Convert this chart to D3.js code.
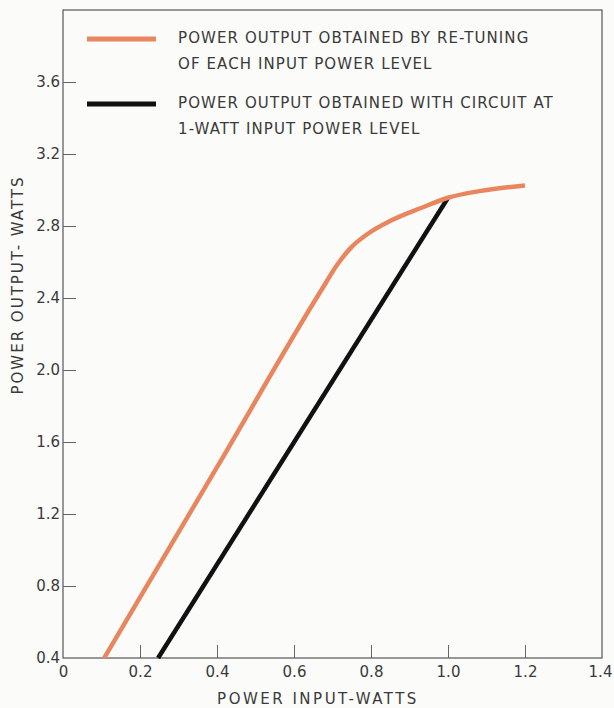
<!DOCTYPE html>
<html>
<head>
<meta charset="utf-8">
<script src="https://cdn.jsdelivr.net/npm/d3@7"></script>
<style>
  html, body { margin: 0; padding: 0; background: #fbfbf9; }
  svg { display: block; }
  text { font-family: "DejaVu Sans", sans-serif; fill: #3a3a3a; }
</style>
</head>
<body>
<svg id="chart" width="614" height="708"></svg>
<script>
// ---- data ----
const xTicks = [0, 0.2, 0.4, 0.6, 0.8, 1.0, 1.2, 1.4];
const xTickLabels = ["0", "0.2", "0.4", "0.6", "0.8", "1.0", "1.2", "1.4"];
const yTicks = [0.4, 0.8, 1.2, 1.6, 2.0, 2.4, 2.8, 3.2, 3.6];
const yTickLabels = ["0.4", "0.8", "1.2", "1.6", "2.0", "2.4", "2.8", "3.2", "3.6"];

// re-tuned curve (orange)
const retuneX = [0.107, 0.4, 0.67, 0.714, 0.748, 0.792, 0.852, 0.93, 1.0, 1.086, 1.2];
const retuneY = [0.40, 1.46, 2.44, 2.59, 2.68, 2.757, 2.83, 2.90, 2.957, 2.995, 3.025];
// fixed circuit (black)
const fixedX = [0.247, 1.0];
const fixedY = [0.40, 2.957];

const seriesNames = [
  ["POWER OUTPUT OBTAINED BY RE-TUNING", "OF EACH INPUT POWER LEVEL"],
  ["POWER OUTPUT OBTAINED WITH CIRCUIT AT", "1-WATT INPUT POWER LEVEL"]
];
const seriesColors = ["#e8875f", "#111111"];
const xTitle = "POWER INPUT-WATTS";
const yTitle = "POWER OUTPUT- WATTS";

// ---- layout ----
const svg = d3.select("#chart");
const L = 63, R = 602, T = 10, B = 658;
const x = d3.scaleLinear().domain([0, 1.4]).range([L, R]);
const y = d3.scaleLinear().domain([0.4, 4.0]).range([B, T]);

// frame
svg.append("rect")
  .attr("x", L).attr("y", T).attr("width", R - L).attr("height", B - T)
  .attr("fill", "none").attr("stroke", "#555").attr("stroke-width", 1.2);

// x axis
const xAxis = d3.axisBottom(x)
  .tickValues(xTicks)
  .tickSize(-13)
  .tickPadding(8)
  .tickFormat((d, i) => xTickLabels[i]);
const gx = svg.append("g").attr("transform", `translate(0,${B})`).call(xAxis);
gx.select(".domain").remove();
gx.selectAll(".tick line").attr("stroke", "#666")
  .attr("display", d => (d === 0 || d === 1.4) ? "none" : null);
gx.selectAll(".tick text")
  .style("font-size", "15px").style("fill", "#3a3a3a")
  .attr("dx", d => d === 1.4 ? -2 : 0);

// y axis
const yAxis = d3.axisLeft(y)
  .tickValues(yTicks)
  .tickSize(-13)
  .tickPadding(3)
  .tickFormat((d, i) => yTickLabels[i]);
const gy = svg.append("g").attr("transform", `translate(${L},0)`).call(yAxis);
gy.select(".domain").remove();
gy.selectAll(".tick line").attr("stroke", "#666")
  .attr("display", d => d === 0.4 ? "none" : null);
gy.selectAll(".tick text")
  .style("font-size", "15px").style("fill", "#3a3a3a");

// titles
svg.append("text")
  .attr("x", 318).attr("y", 704)
  .attr("text-anchor", "middle").style("font-size", "15px")
  .attr("letter-spacing", 2.5)
  .text(xTitle);
svg.append("text")
  .attr("transform", `translate(23,${285}) rotate(-90)`)
  .attr("text-anchor", "middle").style("font-size", "15px")
  .attr("letter-spacing", 2)
  .text(yTitle);

// lines
const line = d3.line().x(d => x(d[0])).y(d => y(d[1])).curve(d3.curveMonotoneX);
const retune = retuneX.map((v, i) => [v, retuneY[i]]);
const fixed = fixedX.map((v, i) => [v, fixedY[i]]);

svg.append("path").datum(fixed)
  .attr("d", line).attr("fill", "none")
  .attr("stroke", seriesColors[1]).attr("stroke-width", 4.5);
svg.append("path").datum(retune)
  .attr("d", line).attr("fill", "none")
  .attr("stroke", seriesColors[0]).attr("stroke-width", 4.5)
  .attr("stroke-linecap", "butt");

// legend
const legendY = [39, 104];
seriesNames.forEach((lines, i) => {
  svg.append("line")
    .attr("x1", 87).attr("x2", 156)
    .attr("y1", legendY[i]).attr("y2", legendY[i])
    .attr("stroke", seriesColors[i]).attr("stroke-width", 5);
  lines.forEach((t, j) => {
    svg.append("text")
      .attr("x", 178).attr("y", legendY[i] + 4 + j * 26)
      .style("font-size", "15px").attr("letter-spacing", 1.1)
      .text(t);
  });
});
</script>
</body>
</html>
